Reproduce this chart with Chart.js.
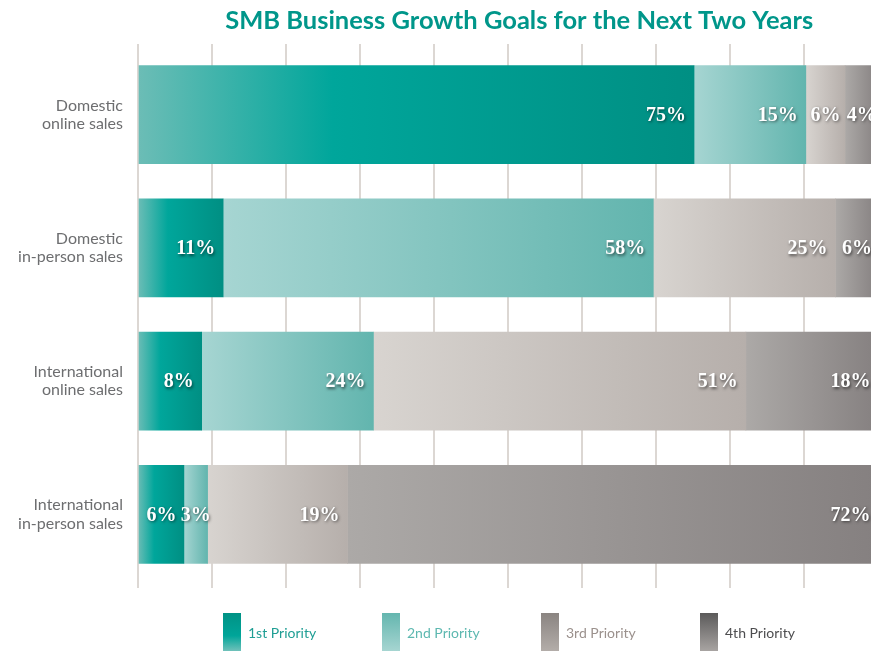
<!DOCTYPE html>
<html><head><meta charset="utf-8">
<script src="https://cdn.jsdelivr.net/npm/chart.js@4/dist/chart.umd.min.js"></script>
<style>html,body{margin:0;padding:0;background:#fff;overflow:hidden}#wrap{width:871px;height:651px}</style>
</head><body><div id="wrap"><canvas id="c" width="871" height="651"></canvas></div>
<script>
const categories = [['Domestic','online sales'],['Domestic','in-person sales'],['International','online sales'],['International','in-person sales']];
const seriesNames = ['1st Priority','2nd Priority','3rd Priority','4th Priority'];
const first  = [75.1, 11.5, 8.6, 6.2];
const second = [15.1, 58.1, 23.2, 3.2];
const third  = [5.3, 24.6, 50.3, 18.9];
const fourth = [4.5, 5.8, 17.9, 71.7];
const firstLabels  = [75, 11, 8, 6];
const secondLabels = [15, 58, 24, 3];
const thirdLabels  = [6, 25, 51, 19];
const fourthLabels = [4, 6, 18, 72];
const xTicks = [0, 10, 20, 30, 40, 50, 60, 70, 80, 90];
const titleText = 'SMB Business Growth Goals for the Next Two Years';

const seriesValues = [first, second, third, fourth];
const seriesLabels = [firstLabels, secondLabels, thirdLabels, fourthLabels];
const barStops = [
  [[0,'#6cbdb6'],[0.35,'#00a69b'],[1,'#008f83']],
  [[0,'#a6d5d2'],[1,'#62b5ae']],
  [[0,'#d8d4d0'],[1,'#b6afab']],
  [[0,'#aca9a7'],[1,'#858080']]
];
const legendStops = [
  [[0,'#009285'],[0.6,'#00a599'],[1,'#70c1ba']],
  [[0,'#64b6af'],[1,'#a6d5d1']],
  [[0,'#8a8481'],[1,'#b3ada9']],
  [[0,'#5b5a5a'],[1,'#a8a4a2']]
];
const legendTextColors = ['#1f9e94','#5db8b0','#9b918d','#4d4d4f'];

function barGradient(di) {
  return (ctx) => {
    const chart = ctx.chart;
    const stops = barStops[di];
    if (!chart.chartArea || ctx.type !== 'data') return stops[stops.length-1][1];
    const xs = chart.scales.x;
    let start = 0;
    for (let d = 0; d < di; d++) start += chart.data.datasets[d].data[ctx.dataIndex];
    const end = start + chart.data.datasets[di].data[ctx.dataIndex];
    const x0 = xs.getPixelForValue(start), x1 = xs.getPixelForValue(end);
    const g = chart.ctx.createLinearGradient(x0, 0, x1, 0);
    stops.forEach(s => g.addColorStop(s[0], s[1]));
    return g;
  };
}

const valueLabelPlugin = {
  id: 'valueLabels',
  afterDatasetsDraw(chart) {
    const ctx = chart.ctx;
    ctx.save();
    ctx.font = 'bold 20px "Liberation Serif"';
    ctx.textBaseline = 'middle';
    ctx.fillStyle = '#ffffff';
    ctx.shadowColor = 'rgba(0,0,0,0.55)';
    ctx.shadowBlur = 3;
    ctx.shadowOffsetX = 1;
    ctx.shadowOffsetY = 1.5;
    chart.data.datasets.forEach((ds, di) => {
      const meta = chart.getDatasetMeta(di);
      meta.data.forEach((el, i) => {
        const txt = seriesLabels[di][i] + '%';
        const w = ctx.measureText(txt).width;
        const segW = el.x - el.base;
        if (w + 16 > segW) {
          ctx.textAlign = 'center';
          ctx.fillText(txt, (el.x + el.base) / 2, el.y + 1);
        } else {
          ctx.textAlign = 'right';
          ctx.fillText(txt, el.x - 8, el.y + 1);
        }
      });
    });
    ctx.restore();
  }
};

const titleLegendPlugin = {
  id: 'titleLegend',
  afterDraw(chart) {
    const ctx = chart.ctx;
    const area = chart.chartArea;
    ctx.save();
    ctx.font = 'bold 25.5px Lato';
    ctx.fillStyle = '#00968a';
    ctx.textAlign = 'center';
    ctx.textBaseline = 'alphabetic';
    ctx.fillText(titleText, area.left + (area.right - area.left) * 0.52, 29);
    const boxH = 38, boxW = 18;
    const top = chart.height - boxH;
    ctx.font = '14px Lato';
    ctx.textAlign = 'left';
    ctx.textBaseline = 'middle';
    chart.data.datasets.forEach((ds, i) => {
      const x = area.left + 85 + i * 159;
      const g = ctx.createLinearGradient(0, top, 0, top + boxH);
      legendStops[i].forEach(s => g.addColorStop(s[0], s[1]));
      ctx.fillStyle = g;
      ctx.fillRect(x, top, boxW, boxH);
      ctx.fillStyle = legendTextColors[i];
      ctx.fillText(ds.label, x + boxW + 7, top + 20);
    });
    ctx.restore();
  }
};

function tickSetter(scale) { scale.ticks = xTicks.map(v => ({ value: v })); }

function build() {
  new Chart(document.getElementById('c'), {
    type: 'bar',
    data: {
      labels: categories,
      datasets: seriesValues.map((vals, di) => ({
        label: seriesNames[di],
        data: vals,
        backgroundColor: barGradient(di),
        borderWidth: 0,
        barThickness: 98
      }))
    },
    options: {
      responsive: false,
      animation: false,
      devicePixelRatio: 1,
      indexAxis: 'y',
      layout: { padding: { top: 44, bottom: 63, left: 0, right: 0 } },
      scales: {
        x: {
          stacked: true, min: 0, max: 99, position: 'bottom',
          afterBuildTicks: tickSetter,
          ticks: { display: false },
          grid: { color: '#dcd7d3', lineWidth: 2, drawTicks: true, tickLength: 7, tickColor: '#dcd7d3' },
          border: { display: false }
        },
        x2: {
          type: 'linear', axis: 'x', position: 'top', min: 0, max: 99,
          afterBuildTicks: tickSetter,
          ticks: { display: false },
          grid: { drawOnChartArea: false, color: '#dcd7d3', lineWidth: 2, drawTicks: true, tickLength: 4, tickColor: '#dcd7d3' },
          border: { display: false }
        },
        y: {
          stacked: true,
          afterFit: (s) => { s.width = 138; },
          grid: { display: false, drawTicks: false },
          border: { display: false },
          ticks: { padding: 15, color: '#6d6e70', font: { family: 'Lato', size: 16, lineHeight: 1.15 } }
        }
      },
      plugins: { legend: { display: false }, title: { display: false }, tooltip: { enabled: false } }
    },
    plugins: [valueLabelPlugin, titleLegendPlugin]
  });
}
const fontLoads = ['bold 25.5px Lato', '16px Lato', '14px Lato', 'bold 20px "Liberation Serif"'].map(f => document.fonts.load(f));
Promise.all(fontLoads).then(build, build);
</script>
</body></html>
